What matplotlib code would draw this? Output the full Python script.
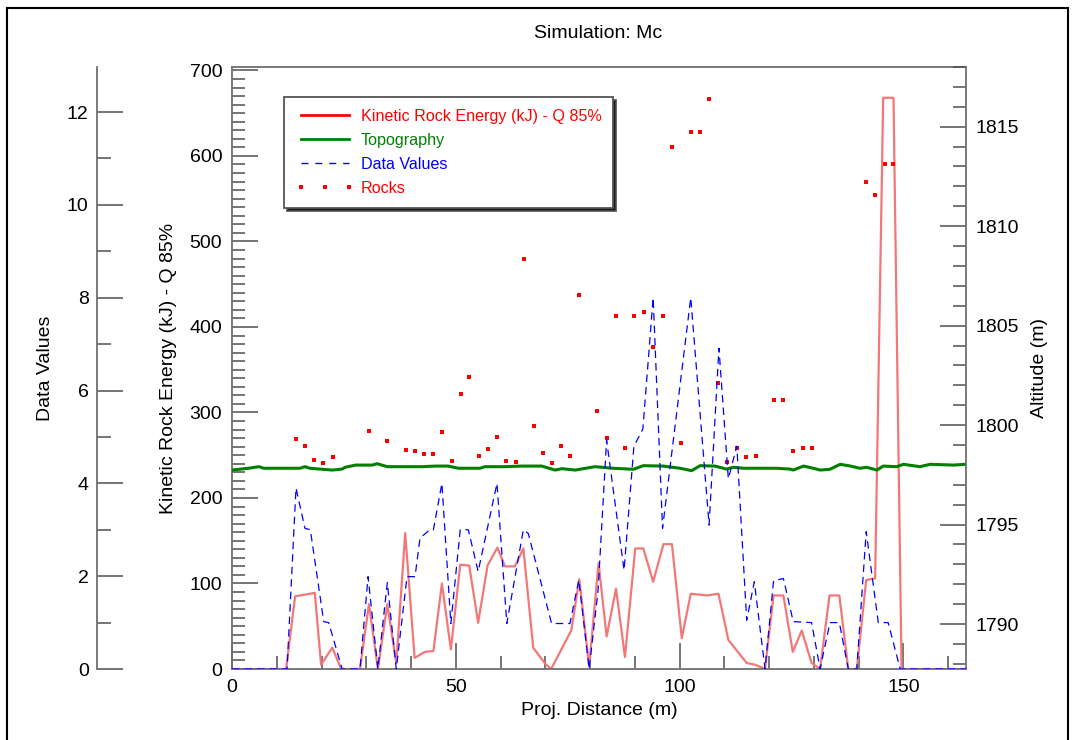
import matplotlib
matplotlib.use('Agg')
import matplotlib.pyplot as plt
from matplotlib.lines import Line2D
from matplotlib.patches import Rectangle
from matplotlib.ticker import MultipleLocator

plt.rcParams['font.family'] = ['Liberation Sans', 'DejaVu Sans']

# ---------------- data ----------------
energy_x = [0, 12.1, 14.1, 18.5, 19.9, 22.4, 24.4, 28.6, 30.6, 32.6, 34.7, 36.7, 38.7, 40.8,
            43.1, 45.0, 46.9, 48.9, 51.0, 53.0, 55.0, 57.1, 59.3, 61.0, 63.2, 65.1, 67.3, 70.0,
            71.3, 73.7, 75.8, 77.6, 79.8, 81.9, 83.7, 85.8, 87.8, 90.1, 91.9, 94.1, 96.4, 98.3,
            100.5, 102.5, 106.1, 108.7, 110.9, 115.0, 116.9, 119.1, 121.0, 123.2, 125.3, 127.3,
            129.5, 131.4, 133.5, 135.7, 137.7, 139.6, 141.7, 143.7, 145.5, 147.8, 149.6, 164.0]
energy_kj = [0, 0, 85, 89, 5, 25, 0, 0, 76, 0, 76, 7, 159, 13,
             20, 21, 100, 23, 122, 121, 54, 121, 142, 120, 120, 141, 25, 6,
             0, 24, 45, 105, 3, 124, 38, 94, 14, 141, 141, 102, 146, 146,
             36, 88, 86, 88, 34, 7, 5, 0, 86, 86, 20, 45,
             7, 0, 86, 86, 0, 0, 104, 106, 668, 668, 0, 0]

data_x = [0, 12.3, 14.3, 16.3, 17.5, 20.5, 21.6, 24.6, 28.6, 30.4, 32.6, 34.7, 36.7, 39.1,
          40.9, 42.0, 44.2, 45.0, 46.9, 48.9, 51.0, 52.8, 55.0, 59.2, 61.4, 65.1, 66.2, 71.4,
          75.5, 77.5, 79.8, 81.8, 83.7, 87.6, 89.8, 91.8, 94.1, 96.2, 102.5, 106.6, 108.8,
          110.9, 112.8, 115.0, 116.7, 119.1, 121.0, 123.2, 125.4, 129.5, 131.4, 133.6, 135.7,
          137.7, 139.6, 141.7, 144.4, 146.6, 149.3, 164.0]
data_vals = [0, 0, 3.9, 3.03, 3.0, 1.02, 1.0, 0, 0, 1.99, 0, 1.86, 0, 1.99,
             1.99, 2.82, 3.0, 3.0, 4.0, 0.98, 3.0, 3.0, 2.1, 4.0, 0.98, 3.0, 2.92, 0.98,
             0.98, 1.92, 0, 1.7, 4.93, 2.13, 4.8, 5.17, 8.0, 3.03, 8.0, 3.1, 6.91,
             4.1, 4.8, 1.05, 1.88, 0, 1.9, 1.95, 1.02, 1.0, 0, 1.0, 1.0,
             0, 0, 2.96, 1.0, 1.0, 0, 0]

topo_x = [0, 3.7, 6.0, 7.1, 15.2, 16.3, 17.4, 20.1, 22.4, 24.6, 25.3, 27.6, 31.3, 32.4, 34.7,
          42.5, 45.4, 48.3, 50.6, 55.4, 56.5, 61.0, 64.7, 69.2, 72.2, 73.7, 76.7, 81.1, 85.2,
          89.7, 91.9, 96.4, 100.1, 102.7, 104.6, 107.9, 110.5, 112.0, 114.3, 121.7, 124.7,
          125.4, 127.7, 129.9, 131.4, 133.6, 135.9, 138.2, 140.3, 141.8, 144.1, 145.5, 148.5,
          150.0, 153.7, 156.0, 161.2, 164.0]
topo_alt = [1797.74, 1797.83, 1797.91, 1797.83, 1797.83, 1797.91, 1797.83, 1797.78, 1797.74,
            1797.79, 1797.88, 1797.99, 1797.99, 1798.06, 1797.91, 1797.91, 1797.94, 1797.94,
            1797.83, 1797.83, 1797.91, 1797.91, 1797.94, 1797.94, 1797.74, 1797.81, 1797.74,
            1797.91, 1797.83, 1797.78, 1797.96, 1797.94, 1797.83, 1797.71, 1797.96, 1797.94,
            1797.79, 1797.88, 1797.83, 1797.83, 1797.79, 1797.74, 1797.94, 1797.83, 1797.74,
            1797.78, 1798.03, 1797.94, 1797.83, 1797.88, 1797.74, 1797.94, 1797.91, 1798.03,
            1797.91, 1798.03, 1797.99, 1798.03]

rock_x = [14.2, 16.3, 18.3, 20.4, 22.5, 30.6, 34.7, 38.8, 40.8, 42.9, 45.0, 47.0, 49.1, 51.1,
          53.0, 55.2, 57.3, 59.3, 61.2, 63.4, 65.3, 67.5, 69.5, 71.6, 73.5, 75.5, 77.6, 81.6,
          83.7, 85.8, 87.8, 89.9, 92.1, 94.0, 96.2, 98.3, 100.3, 102.5, 104.6, 106.6, 108.7,
          110.7, 112.8, 114.9, 117.0, 121.2, 123.2, 125.3, 127.5, 129.5, 141.7, 143.7, 145.8,
          147.8]
rock_kj = [269, 261, 244, 241, 248, 278, 267, 256, 255, 251, 252, 277, 243, 322,
           342, 249, 257, 271, 243, 242, 479, 284, 253, 241, 261, 249, 437, 302,
           270, 413, 259, 413, 417, 376, 413, 610, 264, 628, 628, 667, 335,
           242, 258, 248, 249, 314, 314, 255, 259, 258, 570, 554, 590,
           590]

legend_labels = ['Kinetic Rock Energy (kJ) - Q 85%', 'Topography', 'Data Values', 'Rocks']

# ---------------- styling ----------------
RED_LINE = '#f27878'
GREEN = '#008000'
BLUE = '#0000ff'
SPINE = '#707070'
TICK = '#505050'
FS = 14

fig = plt.figure(figsize=(10.73, 7.40), dpi=100)
ax = fig.add_axes([232 / 1073, 1 - 669 / 740, 734 / 1073, 602 / 740])
ax_alt = ax.twinx()
ax_dat = ax.twinx()

ax.plot(energy_x, energy_kj, color=RED_LINE, lw=1.6, zorder=2)
ax.plot(rock_x, rock_kj, linestyle='none', marker='s', ms=2.2, color='red', mew=0, zorder=3)
ax_alt.plot(topo_x, topo_alt, color=GREEN, lw=2.2)
ax_dat.plot(data_x, data_vals, color=BLUE, lw=0.9, linestyle=(0, (6, 4)))

ax.set_xlim(0, 164)
ax.set_ylim(0, 704)
ax_alt.set_ylim(1787.74, 1818.0)
ax_dat.set_ylim(0, 12.97)

# main axis spines / ticks
for s in ['left', 'bottom', 'top']:
    ax.spines[s].set_color(SPINE)
    ax.spines[s].set_linewidth(1.3)
ax.spines['right'].set_visible(False)
ax.xaxis.set_major_locator(MultipleLocator(50))
ax.xaxis.set_minor_locator(MultipleLocator(10))
ax.yaxis.set_major_locator(MultipleLocator(100))
ax.yaxis.set_minor_locator(MultipleLocator(10))
ax.tick_params(which='both', direction='in', color=TICK, width=1.1, top=False, right=False)
ax.tick_params(which='major', length=19, labelsize=FS, pad=7)
ax.tick_params(which='minor', length=9.5)

# altitude axis
for s in ['left', 'bottom', 'top']:
    ax_alt.spines[s].set_visible(False)
ax_alt.spines['right'].set_color(SPINE)
ax_alt.spines['right'].set_linewidth(1.3)
ax_alt.yaxis.set_major_locator(MultipleLocator(5))
ax_alt.yaxis.set_minor_locator(MultipleLocator(1))
ax_alt.tick_params(which='both', direction='in', color=TICK, width=1.1)
ax_alt.tick_params(which='major', length=19, labelsize=FS, pad=7)
ax_alt.tick_params(which='minor', length=9.5)

# data values axis (far left)
for s in ['right', 'bottom', 'top']:
    ax_dat.spines[s].set_visible(False)
ax_dat.spines['left'].set_visible(True)
ax_dat.spines['left'].set_position(('axes', (97 - 232) / 734))
ax_dat.spines['left'].set_color(SPINE)
ax_dat.spines['left'].set_linewidth(1.3)
ax_dat.yaxis.tick_left()
ax_dat.yaxis.set_label_position('left')
ax_dat.yaxis.set_major_locator(MultipleLocator(2))
ax_dat.yaxis.set_minor_locator(MultipleLocator(1))
ax_dat.tick_params(which='both', direction='in', color=TICK, width=1.1)
ax_dat.tick_params(which='major', length=19, labelsize=FS, pad=6)
ax_dat.tick_params(which='minor', length=10)

# labels
ax.set_xlabel('Proj. Distance (m)', fontsize=FS)
ax.xaxis.set_label_coords(0.5, -0.054)
ax.set_ylabel('Kinetic Rock Energy (kJ) - Q 85%', fontsize=FS)
ax.yaxis.set_label_coords((177 - 232) / 734, 0.5)
ax_alt.set_ylabel('Altitude (m)', fontsize=FS)
ax_alt.yaxis.set_label_coords((1031 - 232) / 734, 0.5)
ax_dat.set_ylabel('Data Values', fontsize=FS)
ax_dat.yaxis.set_label_coords((54 - 232) / 734, 0.5)

fig.text(598 / 1073, 1 - 33 / 740, 'Simulation: Mc', ha='center', va='center', fontsize=14)

# legend
handles = [Line2D([], [], color='red', lw=2),
           Line2D([], [], color=GREEN, lw=2),
           Line2D([], [], color=BLUE, lw=1, linestyle=(0, (5, 5))),
           Line2D([], [], color='red', marker='s', ms=2.4, mew=0, linestyle='none')]
leg = ax_dat.legend(handles, legend_labels, loc='upper left',
                    bbox_to_anchor=((284 - 232) / 734, (669 - 97) / 602),
                    borderaxespad=0, fancybox=False, numpoints=3,
                    handlelength=3.6, handletextpad=0.4, labelspacing=0.55,
                    borderpad=0.75, fontsize=11.6, framealpha=1,
                    edgecolor='#555555',
                    shadow={'facecolor': 'black', 'alpha': 0.9})
leg.get_frame().set_linewidth(1.3)
for t, c in zip(leg.get_texts(), ['red', GREEN, BLUE, 'red']):
    t.set_color(c)

# figure border
fig.add_artist(Rectangle((7 / 1073, -0.05), (1068 - 7) / 1073, (740 - 8) / 740 + 0.05,
                         transform=fig.transFigure, fill=False, edgecolor='black', lw=1.5))

fig.savefig('out.png', dpi=100)
